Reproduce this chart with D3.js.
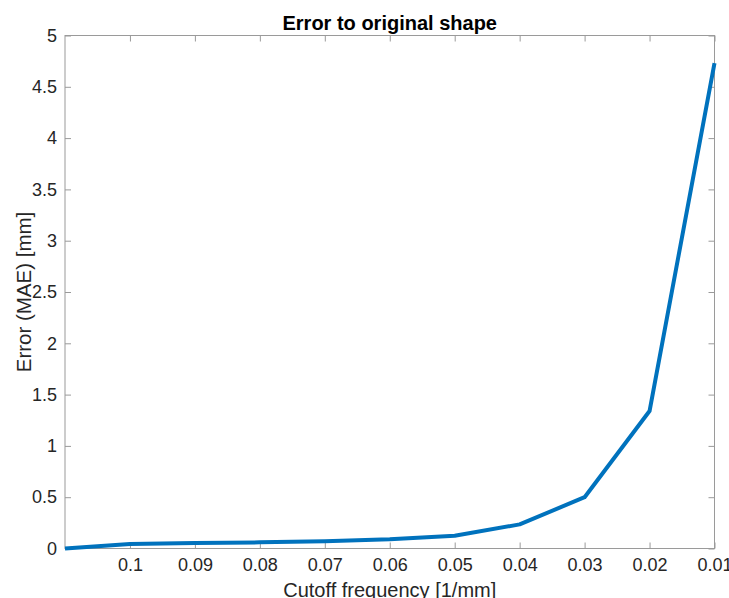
<!DOCTYPE html>
<html>
<head>
<meta charset="utf-8">
<script src="https://cdn.jsdelivr.net/npm/d3@7"></script>
<style>
  body { margin: 0; background: #fff; }
  text { font-family: "Liberation Sans", Arial, sans-serif; fill: #262626; }
</style>
</head>
<body>
<script>
// data
const cutoff = [0.11, 0.1, 0.09, 0.08, 0.07, 0.06, 0.05, 0.04, 0.03, 0.02, 0.01];
const mae = [0, 0.045, 0.053, 0.06, 0.07, 0.09, 0.125, 0.235, 0.5, 1.34, 4.73];
const xTicks = [0.1, 0.09, 0.08, 0.07, 0.06, 0.05, 0.04, 0.03, 0.02, 0.01];
const yTicks = [0, 0.5, 1, 1.5, 2, 2.5, 3, 3.5, 4, 4.5, 5];

const width = 729, height = 598;
const plotLeft = 65, plotRight = 714.5, plotTop = 35.5, plotBottom = 548.5;
const axisColor = '#9a9a9a';

const x = d3.scaleLinear().domain([0.11, 0.01]).range([plotLeft, plotRight]);
const y = d3.scaleLinear().domain([0, 5]).range([plotBottom, plotTop]);

const svg = d3.select('body').append('svg')
  .attr('width', width)
  .attr('height', height);

// box
svg.append('rect')
  .attr('x', plotLeft).attr('y', plotTop)
  .attr('width', plotRight - plotLeft).attr('height', plotBottom - plotTop)
  .attr('fill', 'none').attr('stroke', axisColor).attr('stroke-width', 1);

// bottom & top axes (ticks inward)
const xb = svg.append('g').attr('transform', `translate(0,${plotBottom})`)
  .call(d3.axisBottom(x).tickValues(xTicks).tickSizeInner(-6).tickSizeOuter(0).tickPadding(10).tickFormat(d3.format('')));
const xt = svg.append('g').attr('transform', `translate(0,${plotTop})`)
  .call(d3.axisTop(x).tickValues(xTicks).tickSizeInner(-6).tickSizeOuter(0).tickFormat(''));
const yl = svg.append('g').attr('transform', `translate(${plotLeft},0)`)
  .call(d3.axisLeft(y).tickValues(yTicks).tickSizeInner(-6).tickSizeOuter(0).tickPadding(8).tickFormat(d3.format('')));
const yr = svg.append('g').attr('transform', `translate(${plotRight},0)`)
  .call(d3.axisRight(y).tickValues(yTicks).tickSizeInner(-6).tickSizeOuter(0).tickFormat(''));

[xb, xt, yl, yr].forEach(g => {
  g.select('.domain').remove();
  g.selectAll('line').attr('stroke', axisColor);
  g.selectAll('text').style('font-size', '18px').attr('fill', '#262626');
});

// the curve
svg.append('path')
  .datum(cutoff.map((c, i) => [c, mae[i]]))
  .attr('fill', 'none')
  .attr('stroke', '#0072BD')
  .attr('stroke-width', 4)
  .attr('stroke-linejoin', 'round')
  .attr('d', d3.line().x(d => x(d[0])).y(d => y(d[1])));

// labels
svg.append('text')
  .attr('x', (plotLeft + plotRight) / 2).attr('y', 30)
  .attr('text-anchor', 'middle')
  .style('font-size', '20px').style('font-weight', 'bold')
  .style('fill', '#000')
  .text('Error to original shape');

svg.append('text')
  .attr('x', (plotLeft + plotRight) / 2).attr('y', 597)
  .attr('text-anchor', 'middle')
  .style('font-size', '20px')
  .text('Cutoff frequency [1/mm]');

svg.append('text')
  .attr('transform', `translate(30.5,${(plotTop + plotBottom) / 2}) rotate(-90)`)
  .attr('text-anchor', 'middle')
  .style('font-size', '20.5px')
  .text('Error (MAE) [mm]');
</script>
</body>
</html>
